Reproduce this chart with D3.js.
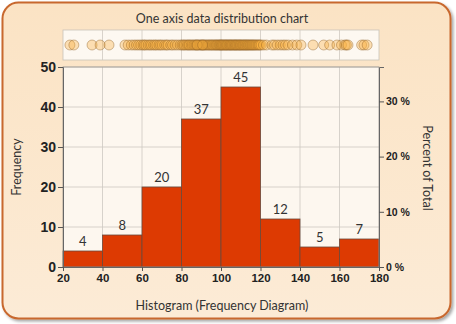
<!DOCTYPE html>
<html>
<head>
<meta charset="utf-8">
<script src="https://cdn.jsdelivr.net/npm/d3@7"></script>
<style>
body { margin: 0; background: #fff; }
svg { display: block; font-family: Lato, "Open Sans", sans-serif; }
</style>
</head>
<body>
<script>
// histogram bins and counts
var binEdges = [20, 40, 60, 80, 100, 120, 140, 160, 180];
var frequency = [4, 8, 20, 37, 45, 12, 5, 7];
var freqTicks = [0, 10, 20, 30, 40, 50];
var pctTicks = [0, 0.1, 0.2, 0.3];

// raw observations for the strip on top
var observations = [
  23.5, 25.5, 34.7, 38.8,
  43.3, 51.4, 53, 54.6, 56, 57.2, 58.3, 59.4,
  60.5, 61.2, 62, 63.1, 64, 64.8, 65.9, 66.7, 67.5, 68.6, 69.4, 70.3, 71.5, 72.4, 73.2, 74.6, 75.5, 76.8, 78, 79.3,
  80.2, 80.9, 81.5, 82.3, 83, 83.6, 84.1, 84.9, 85.5, 86.2, 86.8, 87.4, 88, 88.7, 89.3, 89.8, 90.4, 91, 91.6, 92.1,
  92.7, 93.3, 93.8, 94.4, 95, 95.5, 96, 96.6, 97.1, 97.6, 98, 98.5, 99, 99.4, 99.8, 87.9, 90.7,
  100.2, 100.6, 101, 101.4, 101.9, 102.3, 102.7, 103.1, 103.5, 104, 104.4, 104.8, 105.2, 105.6, 106, 106.5,
  106.9, 107.3, 107.7, 108.1, 108.5, 109, 109.4, 109.8, 110.2, 110.7, 111.1, 111.5, 112, 112.4, 112.9, 113.3,
  113.8, 114.2, 114.7, 115.1, 115.6, 116, 116.5, 117, 117.5, 118, 118.6, 119.1, 119.6,
  120.3, 121.5, 123, 125.8, 127, 128.5, 130, 131.4, 132.6, 134, 136.2, 138.4,
  140.5, 146.6, 152, 155, 158.7,
  161, 162.8, 163.5, 164.3, 171.2, 172.4, 174
];

var total = d3.sum(frequency);

var W = 456, H = 324;
var svg = d3.select("body").append("svg").attr("width", W).attr("height", H);

var defs = svg.append("defs");
var grad = defs.append("linearGradient").attr("id", "bg").attr("x1", 0).attr("y1", 0).attr("x2", 0).attr("y2", 1);
grad.append("stop").attr("offset", "0%").attr("stop-color", "#fbe3c4");
grad.append("stop").attr("offset", "100%").attr("stop-color", "#fcebd6");
var sh = defs.append("filter").attr("id", "shadow").attr("x", "-5%").attr("y", "-5%").attr("width", "110%").attr("height", "110%");
sh.append("feDropShadow").attr("dx", 2).attr("dy", 2).attr("stdDeviation", 1.5).attr("flood-color", "#000").attr("flood-opacity", 0.35);

// frame
svg.append("rect")
  .attr("x", 2.5).attr("y", 2.5).attr("width", 448).attr("height", 316)
  .attr("rx", 16).attr("ry", 16)
  .attr("fill", "url(#bg)")
  .attr("stroke", "#c8682e").attr("stroke-width", 2)
  .attr("filter", "url(#shadow)");

var plotLeft = 63, plotRight = 379, plotTop = 67, plotBottom = 267;

var x = d3.scaleLinear().domain([20, 180]).range([plotLeft, plotRight]);
var y = d3.scaleLinear().domain([0, 50]).range([plotBottom, plotTop]);
var yPct = d3.scaleLinear().domain([0, 50 / total]).range([plotBottom, plotTop]);

// title
svg.append("text")
  .attr("x", 222).attr("y", 23)
  .attr("text-anchor", "middle")
  .attr("font-size", 12.5).attr("fill", "#333")
  .text("One axis data distribution chart");

// strip plot
var stripTop = 30, stripBottom = 60;
svg.append("rect")
  .attr("x", plotLeft).attr("y", stripTop).attr("width", plotRight - plotLeft).attr("height", stripBottom - stripTop)
  .attr("fill", "#fdf8f1").attr("stroke", "#c9c2ba").attr("stroke-width", 0.8);
svg.selectAll(".sgrid")
  .data(binEdges.slice(1, -1))
  .enter().append("line")
  .attr("x1", function(d) { return x(d); }).attr("x2", function(d) { return x(d); })
  .attr("y1", stripTop).attr("y2", stripBottom)
  .attr("stroke", "#cfc9c2").attr("stroke-width", 0.8);
svg.selectAll(".dot")
  .data(observations)
  .enter().append("circle")
  .attr("cx", function(d) { return x(d); })
  .attr("cy", 45)
  .attr("r", 5)
  .attr("fill", "#f8ae3c").attr("fill-opacity", 0.35)
  .attr("stroke", "#8a5a20").attr("stroke-opacity", 0.5).attr("stroke-width", 0.8);

// plot background
svg.append("rect")
  .attr("x", plotLeft).attr("y", plotTop).attr("width", plotRight - plotLeft).attr("height", plotBottom - plotTop)
  .attr("fill", "#fdf7ef");

// grid
svg.selectAll(".vgrid")
  .data(binEdges.slice(1, -1))
  .enter().append("line")
  .attr("x1", function(d) { return x(d); }).attr("x2", function(d) { return x(d); })
  .attr("y1", plotTop).attr("y2", plotBottom)
  .attr("stroke", "#cdc8c2").attr("stroke-width", 0.8);
svg.selectAll(".hgrid")
  .data(freqTicks.slice(1))
  .enter().append("line")
  .attr("x1", plotLeft).attr("x2", plotRight)
  .attr("y1", function(d) { return y(d); }).attr("y2", function(d) { return y(d); })
  .attr("stroke", "#cdc8c2").attr("stroke-width", 0.8);

// bars
svg.selectAll(".bar")
  .data(frequency)
  .enter().append("rect")
  .attr("x", function(d, i) { return x(binEdges[i]); })
  .attr("width", function(d, i) { return x(binEdges[i + 1]) - x(binEdges[i]); })
  .attr("y", function(d) { return y(d); })
  .attr("height", function(d) { return plotBottom - y(d); })
  .attr("fill", "#dd3a02")
  .attr("stroke", "#6b4a3c").attr("stroke-width", 0.8);

svg.selectAll(".blabel")
  .data(frequency)
  .enter().append("text")
  .attr("x", function(d, i) { return (x(binEdges[i]) + x(binEdges[i + 1])) / 2; })
  .attr("y", function(d) { return y(d) - 5; })
  .attr("text-anchor", "middle")
  .attr("font-size", 13).attr("fill", "#333")
  .text(function(d) { return d; });

// plot border
svg.append("rect")
  .attr("x", plotLeft).attr("y", plotTop).attr("width", plotRight - plotLeft).attr("height", plotBottom - plotTop)
  .attr("fill", "none").attr("stroke", "#9a948e").attr("stroke-width", 0.8);

// axes
var yAxis = svg.append("g")
  .attr("transform", "translate(" + plotLeft + ",0)")
  .call(d3.axisLeft(y).tickValues(freqTicks).tickSize(5).tickPadding(2));
yAxis.selectAll("text").attr("font-size", 14).attr("font-weight", "bold").attr("fill", "#222");

var xAxis = svg.append("g")
  .attr("transform", "translate(0," + plotBottom + ")")
  .call(d3.axisBottom(x).tickValues(binEdges).tickSize(4).tickPadding(3));
xAxis.selectAll("text").attr("font-size", 11.5).attr("font-weight", "bold").attr("fill", "#222");

var rAxis = svg.append("g")
  .attr("transform", "translate(" + plotRight + ",0)")
  .call(d3.axisRight(yPct).tickValues(pctTicks).tickSize(5).tickPadding(2)
    .tickFormat(function(d) { return Math.round(d * 100) + " %"; }));
rAxis.selectAll("text").attr("font-size", 10.5).attr("font-weight", "bold").attr("fill", "#222");

[yAxis, xAxis, rAxis].forEach(function(a) {
  a.select(".domain").attr("stroke", "#666");
  a.selectAll(".tick line").attr("stroke", "#555");
});

// axis titles
svg.append("text")
  .attr("transform", "translate(21,167) rotate(-90)")
  .attr("text-anchor", "middle")
  .attr("font-size", 12.5).attr("fill", "#333")
  .text("Frequency");
svg.append("text")
  .attr("transform", "translate(423,168) rotate(90)")
  .attr("text-anchor", "middle")
  .attr("font-size", 12.5).attr("fill", "#333")
  .text("Percent of Total");
svg.append("text")
  .attr("x", 222).attr("y", 310)
  .attr("text-anchor", "middle")
  .attr("font-size", 12.5).attr("fill", "#333")
  .text("Histogram (Frequency Diagram)");
</script>
</body>
</html>
